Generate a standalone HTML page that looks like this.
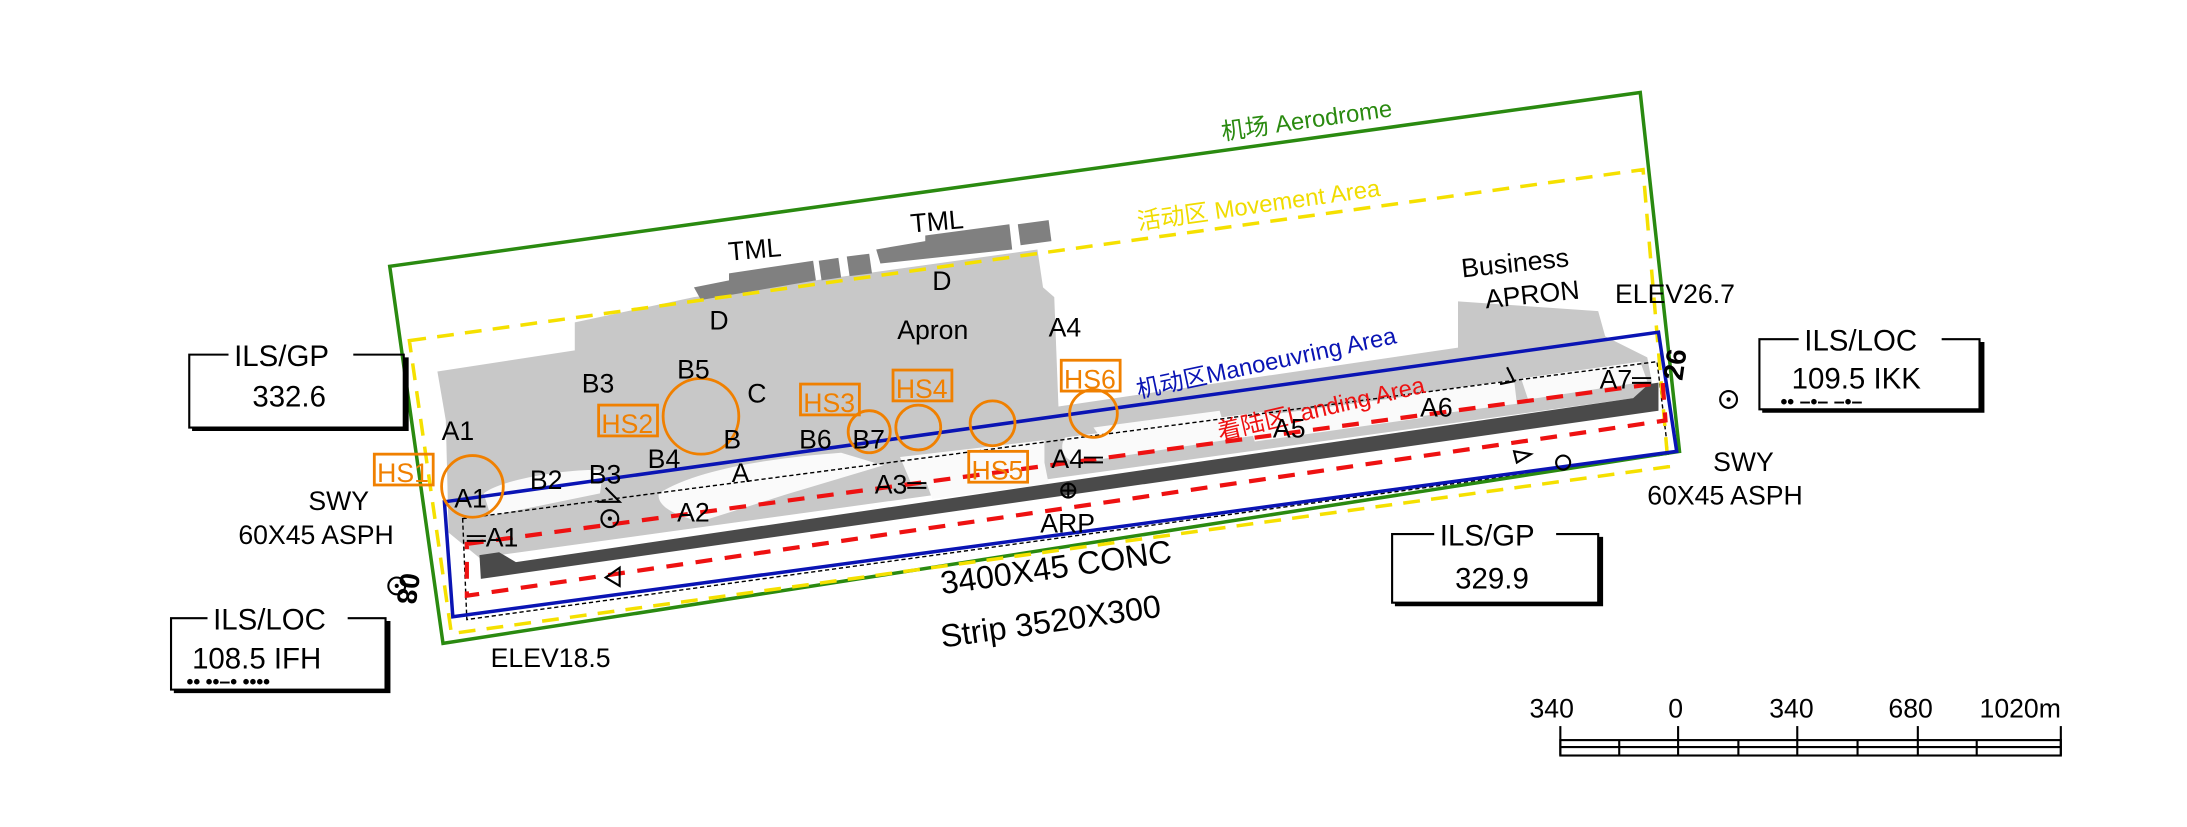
<!DOCTYPE html>
<html><head><meta charset="utf-8"><style>
html,body{margin:0;padding:0;background:#fff;}
svg{display:block}
text{font-family:"Liberation Sans Narrow","Liberation Sans","Noto Sans CJK SC",sans-serif;}
</style></head><body>
<svg width="2187" height="827" viewBox="0 0 1560 590" preserveAspectRatio="none" xmlns="http://www.w3.org/2000/svg">
<polygon fill="#c8c8c8" points="312,265 410,250 410,230 495,212 740,178 744,205 752,212 755,290 1040,248 1040,215 1140,222 1145,240 1175,255 1180,282 342,398 320,380 318,300"/>
<g fill="#fafafa">
<path d="M345,352 C360,340 420,333 430,336 L428,352 L350,368 Z"/>
<path d="M470,352 C500,333 560,326 600,323 L630,332 L560,353 L500,372 C480,368 468,360 470,352 Z"/>
<path d="M642,326 L745,314 L745,332 L650,345 Z"/>
<path d="M660,342 L745,330 L748,345 L665,356 Z"/>
<path d="M760,312 L900,294 C912,294 912,306 900,310 L770,330 C758,330 755,318 760,312Z"/>
<path d="M890,298 L1010,282 L1015,298 L895,315Z"/>
<path d="M1000,282 L1080,271 L1082,288 L1005,298Z"/>
<path d="M1085,270 L1170,258 L1175,272 L1090,285Z"/>
<path d="M780,305 L870,293 L872,300 L785,312Z"/>
</g>
<g fill="#808080">
<polygon points="495,205 520,200 520,195 580,186 582,200 500,214"/>
<polygon points="584,186 598,184 600,198 586,200"/>
<polygon points="604,183 620,181 622,195 606,197"/>
<polygon points="625,178 660,172 660,168 720,160 722,178 628,188"/>
<polygon points="726,160 748,157 750,172 728,175"/>
</g>
<polygon fill="#4a4a4a" points="342,396 356,394 368,401 1165,284 1176,274 1183,273 1183,293 343,413"/>
<polygon fill="none" stroke="#000" stroke-width="1" stroke-dasharray="3,2" points="330,370 1182,258 1190,324 333,442"/>
<polygon fill="none" stroke="#2a8a10" stroke-width="2.5" points="278,190 1170,66 1198,322 316,459"/>
<polygon fill="none" stroke="#f5e000" stroke-width="2.5" stroke-dasharray="12,8" points="292,243 1172,121 1190,333 322,452"/>
<polygon fill="none" stroke="#0a14b4" stroke-width="2.5" points="317,358 1183,237 1196,322 323,440"/>
<polygon fill="none" stroke="#ee1111" stroke-width="3" stroke-dasharray="12,9" points="333,388 1186,273 1188,300 333,425"/>
<text x="872" y="100" font-size="17" fill="#2a8a10" transform="rotate(-8 872 100)">机场 Aerodrome</text>
<text x="812" y="164" font-size="17" fill="#f0dc00" transform="rotate(-8 812 164)">活动区 Movement Area</text>
<text x="812" y="284" font-size="17" fill="#0a14b4" transform="rotate(-12 812 284)">机动区Manoeuvring Area</text>
<text x="870" y="314" font-size="17" fill="#ee1111" transform="rotate(-13 870 314)">着陆区Landing Area</text>
<g fill="none" stroke="#f08000" stroke-width="2">
<circle cx="337" cy="347" r="22"/><circle cx="500" cy="297" r="27"/><circle cx="620" cy="308" r="15"/>
<circle cx="655" cy="305" r="16"/><circle cx="708" cy="302" r="16"/><circle cx="780" cy="295" r="17"/>
<rect x="267" y="324" width="42" height="22"/><rect x="427" y="289" width="42" height="22"/>
<rect x="571" y="274" width="42" height="22"/><rect x="637" y="264" width="42" height="22"/>
<rect x="691" y="322" width="42" height="22"/><rect x="757" y="257" width="42" height="22"/>
</g>
<g fill="#f08000" font-size="19">
<text x="269" y="344">HS1</text><text x="429" y="309">HS2</text><text x="573" y="294">HS3</text>
<text x="639" y="284">HS4</text><text x="693" y="342">HS5</text><text x="759" y="277">HS6</text>
</g>
<g font-size="19" fill="#000">
<text x="520" y="186" transform="rotate(-5 520 186)">TML</text>
<text x="650" y="166" transform="rotate(-5 650 166)">TML</text>
<text x="506" y="235">D</text><text x="665" y="207">D</text>
<text x="640" y="242">Apron</text><text x="748" y="240">A4</text>
<text x="415" y="280">B3</text><text x="483" y="270">B5</text><text x="533" y="287">C</text>
<text x="315" y="314">A1</text><text x="516" y="320">B</text><text x="570" y="320">B6</text><text x="608" y="320">B7</text>
<text x="378" y="349">B2</text><text x="420" y="345">B3</text><text x="462" y="334">B4</text><text x="522" y="344">A</text>
<text x="324" y="362">A1</text>
<text x="483" y="372">A2</text><text x="624" y="352">A3═</text><text x="750" y="334">A4═</text>
<text x="908" y="312">A5</text><text x="1013" y="297">A6</text><text x="1141" y="277">A7═</text>
<text x="742" y="380">ARP</text><text x="333" y="390">═A1</text>
<text x="1043" y="198" transform="rotate(-6 1043 198)">Business</text>
<text x="1060" y="220" transform="rotate(-6 1060 220)">APRON</text>
<text x="1152" y="216">ELEV26.7</text>
<text x="350" y="476">ELEV18.5</text>
<text x="220" y="364">SWY</text><text x="170" y="388">60X45 ASPH</text>
<text x="1222" y="336">SWY</text><text x="1175" y="360">60X45 ASPH</text>
</g>
<text x="672" y="424" font-size="23" transform="rotate(-8 672 424)">3400X45 CONC</text>
<text x="672" y="462" font-size="23" transform="rotate(-8 672 462)">Strip 3520X300</text>
<text x="286" y="408" font-size="20" font-weight="bold" transform="rotate(98 286 408)">08</text>
<text x="1200" y="272" font-size="20" font-weight="bold" transform="rotate(-82 1200 272)">26</text>
<g fill="none" stroke="#000" stroke-width="1.5">
<circle cx="283" cy="418" r="6"/><circle cx="1233" cy="285" r="6"/>
<circle cx="435" cy="370" r="6"/><circle cx="1115" cy="330" r="5"/>
<circle cx="762" cy="350" r="5"/><line x1="757" y1="350" x2="767" y2="350"/><line x1="762" y1="345" x2="762" y2="355"/>
<path d="M432,348 L442,358 L426,358"/><path d="M442,405 L432,412 L442,418 Z"/><path d="M1080,322 L1092,324 L1082,330 Z"/>
<path d="M1075,262 L1080,272 L1070,274"/>
</g>
<g fill="#000"><circle cx="283" cy="418" r="1.5"/><circle cx="1233" cy="285" r="1.5"/><circle cx="435" cy="370" r="1.5"/></g>
<g font-size="21" fill="#000">
<g>
<path d="M163,253 H135 V305 H288 V253 H252" fill="none" stroke="#000" stroke-width="1.5"/>
<path d="M137,306 H290 V255" fill="none" stroke="#000" stroke-width="3"/>
<text x="167" y="261">ILS/GP</text><text x="180" y="290">332.6</text>
</g>
<g>
<path d="M148,441 H122 V492 H275 V441 H248" fill="none" stroke="#000" stroke-width="1.5"/>
<path d="M124,493 H277 V443" fill="none" stroke="#000" stroke-width="3"/>
<text x="152" y="449">ILS/LOC</text><text x="137" y="477">108.5 IFH</text>
<text x="133" y="491" font-size="14" font-weight="bold">••  ••–•  ••••</text>
</g>
<g>
<path d="M1283,242 H1255 V292 H1412 V242 H1385" fill="none" stroke="#000" stroke-width="1.5"/>
<path d="M1257,293 H1414 V244" fill="none" stroke="#000" stroke-width="3"/>
<text x="1287" y="250">ILS/LOC</text><text x="1278" y="277">109.5 IKK</text>
<text x="1270" y="291" font-size="14" font-weight="bold">••  –•–  –•–</text>
</g>
<g>
<path d="M1023,381 H993 V430 H1140 V381 H1110" fill="none" stroke="#000" stroke-width="1.5"/>
<path d="M995,431 H1142 V383" fill="none" stroke="#000" stroke-width="3"/>
<text x="1027" y="389">ILS/GP</text><text x="1038" y="420">329.9</text>
</g>
</g>
<g font-size="19" fill="#000">
<text x="1091" y="512">340</text><text x="1190" y="512">0</text><text x="1262" y="512">340</text>
<text x="1347" y="512">680</text><text x="1412" y="512">1020m</text>
</g>
<g stroke="#000" stroke-width="1.5" fill="none">
<rect x="1113" y="528" width="357" height="11"/>
<line x1="1113" y1="533" x2="1470" y2="533"/>
<line x1="1155" y1="528" x2="1155" y2="539"/><line x1="1197" y1="518" x2="1197" y2="539"/>
<line x1="1240" y1="528" x2="1240" y2="539"/><line x1="1282" y1="518" x2="1282" y2="539"/>
<line x1="1325" y1="528" x2="1325" y2="539"/><line x1="1368" y1="518" x2="1368" y2="539"/>
<line x1="1410" y1="528" x2="1410" y2="539"/><line x1="1113" y1="518" x2="1113" y2="539"/>
<line x1="1470" y1="518" x2="1470" y2="539"/>
</g>
</svg>
</body></html>
